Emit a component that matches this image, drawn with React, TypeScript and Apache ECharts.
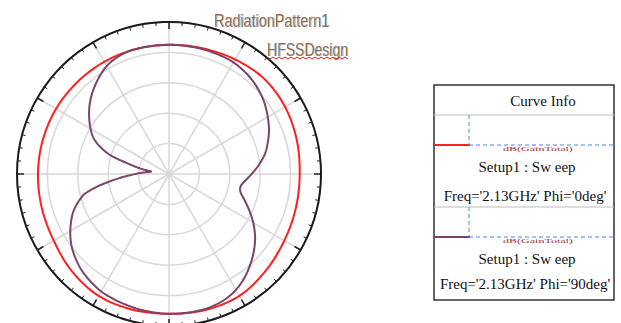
import React, { useEffect, useRef } from "react";
import * as echarts from "echarts";

// Phi = 0deg curve (red): theta (deg, clockwise from top) and radial value
const phi0Theta = [0, 15, 30, 45, 60, 75, 90, 105, 120, 135, 150, 165, 180, 195, 210, 225, 240, 255, 270, 285, 300, 315, 330, 345, 360];
const phi0Value = [4.25, 4.28, 4.35, 4.43, 4.41, 4.35, 4.3, 4.32, 4.38, 4.5, 4.63, 4.63, 4.6, 4.62, 4.63, 4.52, 4.38, 4.33, 4.31, 4.3, 4.29, 4.27, 4.26, 4.25, 4.25];

// Phi = 90deg curve (purple)
const phi90Theta = [
  0, 6, 12, 18, 24, 30, 36, 42, 48, 54, 60, 66, 72, 78, 84, 90, 96, 100, 104, 108, 114, 120, 126, 132, 138, 144, 150, 156, 162, 168, 174, 180,
  186, 192, 198, 204, 210, 216, 222, 228, 234, 240, 246, 250, 254, 257, 260, 263, 266, 269, 272, 275, 278, 280, 282, 284, 286, 288, 291, 295,
  300, 306, 312, 318, 324, 330, 336, 342, 348, 354, 360,
];
const phi90Value = [
  4.25, 4.25, 4.25, 4.25, 4.25, 4.24, 4.19, 4.12, 4.02, 3.9, 3.75, 3.6, 3.42, 3.23, 2.98, 2.72, 2.48, 2.39, 2.42, 2.58, 2.88, 3.2, 3.5, 3.76, 4.0, 4.22, 4.4, 4.52, 4.58, 4.6, 4.6, 4.6,
  4.58, 4.56, 4.53, 4.5, 4.46, 4.38, 4.28, 4.14, 3.97, 3.75, 3.5, 3.3, 3.05, 2.82, 2.4, 1.95, 1.55, 1.2, 0.95, 0.72, 0.6, 0.85, 1.1, 1.35, 1.7, 2.05, 2.38, 2.72,
  2.98, 3.25, 3.5, 3.72, 3.92, 4.1, 4.2, 4.25, 4.25, 4.25, 4.25,
];

// outer scale ticks (every 5 degrees, major every 30)
const tickStep = 5;
const majorTickStep = 30;

const titleText = "RadiationPattern1";
const designText = "HFSSDesign";
const legendTitle = "Curve Info";
const legendSetup = "Setup1 : Sw eep";
const legendFreq = ["Freq='2.13GHz' Phi='0deg'", "Freq='2.13GHz' Phi='90deg'"];
const legendExpr = "dB(GainTotal)";

const RED = "#ff1f1f";
const PURPLE = "#7a4568";
const BLUE = "#4a86e8";
const SERIF = "'Liberation Serif', 'Times New Roman', serif";
const SANS = "'Liberation Sans', Arial, sans-serif";
const R_MAX = 5;

function closedSpline(pts: number[][], steps: number): number[][] {
  const n = pts.length;
  const out: number[][] = [];
  for (let i = 0; i < n; i++) {
    const p0 = pts[(i - 1 + n) % n], p1 = pts[i], p2 = pts[(i + 1) % n], p3 = pts[(i + 2) % n];
    for (let s = 0; s < steps; s++) {
      const t = s / steps, t2 = t * t, t3 = t2 * t;
      const f = (a: number, b: number, c: number, d: number) =>
        0.5 * (2 * b + (-a + c) * t + (2 * a - 5 * b + 4 * c - d) * t2 + (-a + 3 * b - 3 * c + d) * t3);
      out.push([f(p0[0], p1[0], p2[0], p3[0]), f(p0[1], p1[1], p2[1], p3[1])]);
    }
  }
  out.push(out[0]);
  return out;
}

function curveSeries(theta: number[], vals: number[], color: string, z: number) {
  return {
    type: "custom",
    coordinateSystem: "polar",
    polarIndex: 0,
    z,
    silent: true,
    data: theta.map((a, i) => [vals[i], a]),
    renderItem: (params: any, api: any) => {
      if (params.dataIndex !== 0) return null;
      let n = theta.length;
      if (Math.abs(theta[n - 1] - theta[0] - 360) < 1e-6) n -= 1;
      const pts: number[][] = [];
      for (let i = 0; i < n; i++) pts.push(api.coord([vals[i], theta[i]]));
      return {
        type: "polyline",
        shape: { points: closedSpline(pts, 8) },
        style: { stroke: color, lineWidth: 2, fill: "none", lineJoin: "round" },
      };
    },
  };
}

export default function App() {
  const ref = useRef<HTMLDivElement>(null);
  useEffect(() => {
    if (!ref.current) return;
    const chart = echarts.init(ref.current, undefined, { renderer: "svg" });

    const zig: number[][] = [];
    for (let i = 0; i <= 27; i++) zig.push([267 + i * 3, i % 2 ? 59 : 57]);

    const tickAngles: number[] = [];
    for (let a = 0; a < 360; a += tickStep) tickAngles.push(a);

    const boxL = 434, boxR = 614, boxT = 85, boxB = 300;
    const legendRow = (lineY: number, topY: number, color: string, t1Y: number, t2Y: number, freq: string) => [
      { type: "line", shape: { x1: boxL, y1: lineY, x2: 470, y2: lineY }, style: { stroke: color, lineWidth: 2 } },
      { type: "line", shape: { x1: 469, y1: topY, x2: 469, y2: lineY }, style: { stroke: BLUE, lineWidth: 1, lineDash: [4, 3] } },
      { type: "line", shape: { x1: 469, y1: lineY, x2: boxR, y2: lineY }, style: { stroke: BLUE, lineWidth: 1, lineDash: [4, 3] } },
      { type: "text", x: 538, y: lineY + 4, scaleY: 0.45, style: { text: legendExpr, font: `12px ${SERIF}`, fill: "#a83030", textAlign: "center", textVerticalAlign: "middle" } },
      { type: "text", x: 527, y: t1Y, style: { text: legendSetup, font: `15px ${SERIF}`, fill: "#111", textAlign: "center", textVerticalAlign: "middle" } },
      { type: "text", x: 525, y: t2Y, style: { text: freq, font: `15px ${SERIF}`, fill: "#111", textAlign: "center", textVerticalAlign: "middle" } },
    ];

    const hidden = { show: false };
    const option: any = {
      animation: false,
      polar: { center: [169, 174], radius: 152 },
      angleAxis: {
        type: "value",
        min: 0,
        max: 360,
        interval: majorTickStep,
        startAngle: 90,
        clockwise: true,
        axisLine: { show: true, lineStyle: { color: "#1a1a1a", width: 2 } },
        axisTick: hidden,
        axisLabel: hidden,
        splitLine: { show: true, lineStyle: { color: "#d8d8d8", width: 1.5 } },
      },
      radiusAxis: {
        type: "value",
        min: 0,
        max: R_MAX,
        interval: 1,
        axisLine: hidden,
        axisTick: hidden,
        axisLabel: hidden,
        splitLine: { show: true, lineStyle: { color: "#d8d8d8", width: 1.5 } },
      },
      series: [
        {
          type: "custom",
          coordinateSystem: "polar",
          polarIndex: 0,
          silent: true,
          z: 5,
          data: tickAngles.map((a) => [R_MAX, a]),
          renderItem: (params: any, api: any) => {
            const a = tickAngles[params.dataIndex];
            const p = api.coord([R_MAX, a]);
            const c = api.coord([0, a]);
            const d = Math.hypot(p[0] - c[0], p[1] - c[1]);
            const major = a % majorTickStep === 0;
            const len = major ? 7 : 3.5;
            return {
              type: "line",
              shape: { x1: p[0], y1: p[1], x2: p[0] + ((c[0] - p[0]) / d) * len, y2: p[1] + ((c[1] - p[1]) / d) * len },
              style: { stroke: "#222", lineWidth: major ? 1.5 : 1 },
            };
          },
        },
        curveSeries(phi0Theta, phi0Value, RED, 3),
        curveSeries(phi90Theta, phi90Value, PURPLE, 4),
      ],
      graphic: [
        { type: "text", x: 214, y: 20, scaleX: 0.8, z: 10, style: { text: titleText, font: `18px ${SANS}`, fill: "#a8672e", textVerticalAlign: "middle", textShadowColor: "#8ccdf5", textShadowOffsetX: 1, textShadowBlur: 1 } },
        { type: "text", x: 267, y: 49, scaleX: 0.78, z: 10, style: { text: designText, font: `18px ${SANS}`, fill: "#a8672e", textVerticalAlign: "middle", textShadowColor: "#8ccdf5", textShadowOffsetX: 1, textShadowBlur: 1 } },
        { type: "polyline", z: 10, shape: { points: zig }, style: { stroke: "#e02020", lineWidth: 1, fill: null } },
        { type: "rect", shape: { x: boxL, y: boxT, width: boxR - boxL, height: boxB - boxT }, style: { fill: "#fff", stroke: "#333", lineWidth: 1.5 } },
        { type: "line", shape: { x1: boxL, y1: 115, x2: boxR, y2: 115 }, style: { stroke: "#bbb", lineWidth: 1 } },
        { type: "line", shape: { x1: boxL, y1: 207, x2: boxR, y2: 207 }, style: { stroke: "#bbb", lineWidth: 1 } },
        { type: "text", x: 543, y: 101, style: { text: legendTitle, font: `15px ${SERIF}`, fill: "#111", textAlign: "center", textVerticalAlign: "middle" } },
        ...legendRow(145, 115, RED, 167, 196, legendFreq[0]),
        ...legendRow(237, 207, PURPLE, 259, 284, legendFreq[1]),
      ],
    };
    chart.setOption(option);
    return () => chart.dispose();
  }, []);
  return <div ref={ref} style={{ position: "fixed", left: 0, top: 0, width: 621, height: 323, background: "#fff" }} />;
}
